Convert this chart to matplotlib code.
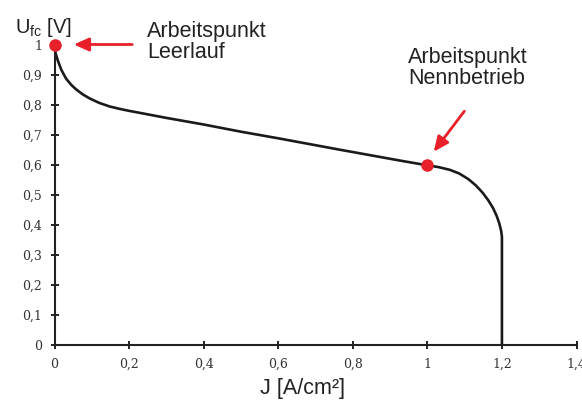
import matplotlib
matplotlib.use("Agg")
import matplotlib.pyplot as plt
from matplotlib.ticker import FuncFormatter

# Data
J = [0.0, 0.003, 0.009, 0.018, 0.031, 0.045, 0.058, 0.075, 0.094, 0.12, 0.148,
     0.175, 0.2, 0.228, 0.3, 0.4, 0.5, 0.6, 0.7, 0.765, 0.85, 0.93, 1.0, 1.03,
     1.06, 1.085, 1.11, 1.13, 1.148, 1.163, 1.176, 1.186, 1.193, 1.198, 1.2, 1.2]
U = [1.0, 0.972, 0.948, 0.918, 0.888, 0.867, 0.852, 0.836, 0.822, 0.807, 0.795,
     0.787, 0.7805, 0.774, 0.757, 0.735, 0.711, 0.689, 0.666, 0.651, 0.632, 0.614,
     0.599, 0.593, 0.584, 0.572, 0.553, 0.532, 0.508, 0.483, 0.457, 0.43, 0.405,
     0.38, 0.36, 0.0]
points_x = [0.0, 1.0]
points_y = [1.0, 0.6]
label_lines = [["Arbeitspunkt", "Leerlauf"], ["Arbeitspunkt", "Nennbetrieb"]]
xticks = [0, 0.2, 0.4, 0.6, 0.8, 1.0, 1.2, 1.4]
yticks = [0, 0.1, 0.2, 0.3, 0.4, 0.5, 0.6, 0.7, 0.8, 0.9, 1.0]

plt.rcParams['mathtext.fontset'] = 'custom'
plt.rcParams['mathtext.rm'] = 'Liberation Sans'
plt.rcParams['mathtext.it'] = 'Liberation Sans'

W, H = 582, 401
fig = plt.figure(figsize=(W/100, H/100), dpi=100)
ax = fig.add_axes([54.5/W, 1-345/H, (576.5-54.5)/W, 300/H])
ax.set_xlim(0, 1.4)
ax.set_ylim(0, 1.0)
for s in ['top', 'right']:
    ax.spines[s].set_visible(False)
for s in ['left', 'bottom']:
    ax.spines[s].set_linewidth(1.5)
    ax.spines[s].set_color('#222222')

ax.plot(J, U, color='#1a1a1a', lw=1.9, clip_on=False,
        solid_joinstyle='round', solid_capstyle='butt')
ax.plot(points_x, points_y, 'o', color='#e8202a', ms=8, clip_on=False, zorder=5)

ax.set_xticks(xticks)
ax.set_yticks(yticks)
fmt = FuncFormatter(lambda v, p: ('%g' % round(v, 2)).replace('.', ','))
ax.xaxis.set_major_formatter(fmt)
ax.yaxis.set_major_formatter(fmt)
ax.tick_params(direction='inout', length=6, width=1.4, color='#222222',
               labelsize=9, labelcolor='#333333', pad=6)
for lab in ax.get_xticklabels() + ax.get_yticklabels():
    lab.set_fontfamily('DejaVu Serif')

sans = 'Liberation Sans'
fs = 15.5
# label texts (baselines in pixels)
for lines, x0, y0 in [(label_lines[0], 147, 36.5), (label_lines[1], 408, 62.5)]:
    for i, line in enumerate(lines):
        fig.text(x0/W, 1-(y0 + 22*i)/H, line, fontsize=fs, family=sans,
                 color='#222222', ha='left', va='baseline')

arrow = dict(arrowstyle='-|>,head_length=0.9,head_width=0.4',
             color='#e8202a', lw=2)
ax.annotate('', xy=(71/W, 1-44.5/H), xycoords='figure fraction',
            xytext=(135/W, 1-44.5/H), textcoords='figure fraction',
            arrowprops=arrow)
ax.annotate('', xy=(432/W, 1-154/H), xycoords='figure fraction',
            xytext=(466/W, 1-109/H), textcoords='figure fraction',
            arrowprops=arrow)

fig.text(14.5/W, 1-33/H, r'U$_{\mathrm{fc}}$ [V]', fontsize=14.5, family=sans,
         color='#222222', ha='left', va='baseline')
fig.text(302/W, 1-394/H, 'J [A/cm²]', fontsize=fs, family=sans,
         color='#222222', ha='center', va='baseline')

fig.savefig('out.png', dpi=100)
